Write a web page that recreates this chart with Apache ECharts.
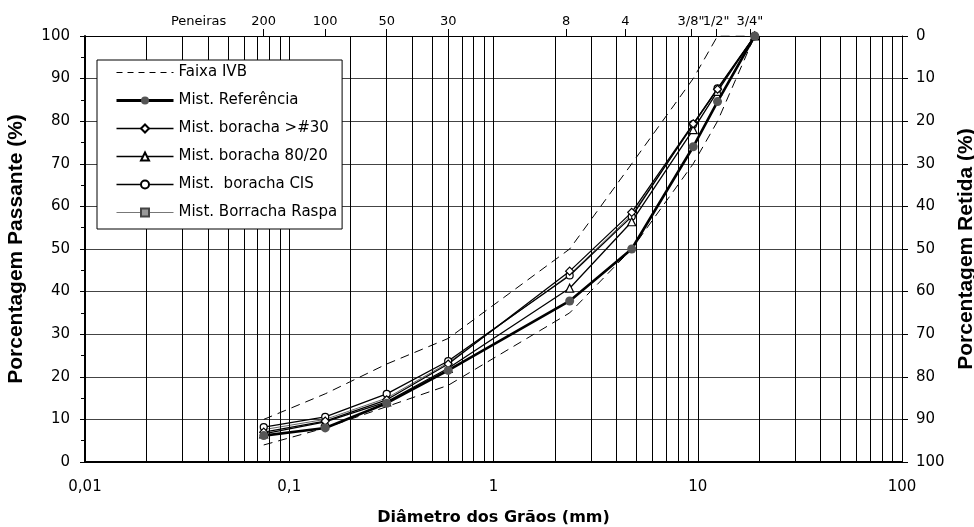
<!DOCTYPE html>
<html>
<head>
<meta charset="utf-8">
<script src="https://cdn.jsdelivr.net/npm/echarts@6/dist/echarts.min.js"></script>
<style>
html,body{margin:0;padding:0;background:#fff;}
#chart{width:974px;height:527px;}
</style>
</head>
<body>
<div id="chart"></div>
<script>
// Sieve openings (mm) and labels
const sieveSizes = [0.075, 0.15, 0.3, 0.6, 2.36, 4.75, 9.5, 12.5, 19];
const sieveLabels = ['200', '100', '50', '30', '8', '4', '3/8"', '1/2"', '3/4"'];
// where the top-axis sieve ticks sit on the drawn scale (mm)
const sieveTickPos = [0.075, 0.15, 0.3, 0.6, 2.27, 4.42, 9.27, 12.3, 18];
const topTitleLabel = 'Peneiras';
const topTitlePos = 0.036;

// Faixa IVB envelope (% passing)
const faixaUpper = [10, 16, 23, 29, 50, 70, 90, 100, 100];
const faixaLower = [4, 8, 13, 18, 35, 50, 70, 80, 100];

// Mixtures (% passing)
const mistReferencia = [6.2, 8, 13.8, 21.5, 37.8, 50, 74, 84.6, 100];
const mistBoracha30 = [7, 9.6, 14.6, 23, 44.8, 58.6, 79.4, 87.5, 100];
const mistBoracha8020 = [6.6, 9.4, 14.1, 22, 40.8, 56.4, 78, 87, 100];
const mistBorachaCIS = [8.2, 10.6, 16, 23.7, 43.8, 57.6, 79.3, 87.7, 100];
const mistRaspa = [7.6, 10, 15, 23.3, 44, 58, 79, 87.5, 100];

const seriesNames = ['Faixa IVB', 'Mist. Referência', 'Mist. boracha >#30', 'Mist. boracha 80/20', 'Mist.  boracha CIS', 'Mist. Borracha Raspa'];

// x-axis tick labels
const xTickValues = [0.01, 0.1, 1, 10, 100];
const xTickLabels = ['0,01', '0,1', '1', '10', '100'];

// vertical grid lines (log minor lines)
const gridDecades = [0.01, 0.1, 1, 10];
const gridMultipliers = [1, 2, 3, 4, 5, 6, 7, 8, 9];

const pairs = vals => sieveSizes.map((s, i) => [s, vals[i]]);
const gridLinesX = [];
gridDecades.forEach(d => gridMultipliers.forEach(m => {
  const v = +(d * m).toPrecision(6);
  if (v > 0.01) gridLinesX.push(v);
}));

const FONT = 'DejaVu Sans';
const chart = echarts.init(document.getElementById('chart'), null, {renderer: 'canvas'});

const topTickVals = sieveTickPos.map(s => Math.log10(s));
const topLabelVals = topTickVals.concat([Math.log10(topTitlePos)]);
const topLabelTexts = sieveLabels.concat([topTitleLabel]);

function lineSeries(name, vals, opts) {
  return Object.assign({
    name: name,
    type: 'line',
    xAxisIndex: 0,
    yAxisIndex: 0,
    data: pairs(vals),
    silent: true
  }, opts);
}

chart.setOption({
  animation: false,
  textStyle: {fontFamily: FONT, color: '#000'},
  grid: {left: 85, right: 72, top: 36, bottom: 65, containLabel: false, outerBoundsMode: 'none'},
  legend: {
    z: 20,
    data: [
      {name: seriesNames[0], itemStyle: {opacity: 0}, lineStyle: {width: 1, color: '#000', type: [6, 5]}},
      {name: seriesNames[1], lineStyle: {width: 3, color: '#000'}},
      {name: seriesNames[2], lineStyle: {width: 1.3, color: '#000'}},
      {name: seriesNames[3], lineStyle: {width: 1.3, color: '#000'}},
      {name: seriesNames[4], lineStyle: {width: 1.3, color: '#000'}},
      {name: seriesNames[5], lineStyle: {width: 1, color: '#777'}}
    ],
    orient: 'vertical',
    left: 97,
    top: 60,
    backgroundColor: '#fff',
    borderColor: '#000',
    borderWidth: 1,
    borderRadius: 0,
    padding: [5, 5, 9, 18],
    itemWidth: 57,
    itemHeight: 10,
    itemGap: 13,
    textStyle: {fontFamily: FONT, fontSize: 15, color: '#000'},
    selectedMode: false
  },
  xAxis: [
    {
      type: 'log', logBase: 10, min: 0.01, max: 100,
      position: 'bottom',
      name: 'Diâmetro dos Grãos (mm)',
      nameLocation: 'middle',
      nameGap: 48,
      nameTextStyle: {fontFamily: FONT, fontSize: 16, fontWeight: 'bold', color: '#000'},
      axisLine: {show: true, onZero: false, lineStyle: {color: '#000', width: 2}},
      axisTick: {show: false},
      splitLine: {show: false},
      axisLabel: {
        fontFamily: FONT, fontSize: 15, color: '#000', margin: 18,
        formatter: v => {
          let best = 0;
          xTickValues.forEach((t, i) => { if (Math.abs(Math.log10(t) - Math.log10(v)) < Math.abs(Math.log10(xTickValues[best]) - Math.log10(v))) best = i; });
          return xTickLabels[best];
        }
      }
    },
    {
      type: 'value', min: -2, max: 2,
      position: 'top',
      axisLine: {show: true, onZero: false, lineStyle: {color: '#000', width: 1}},
      axisTick: {show: true, inside: false, length: 7, customValues: topTickVals, lineStyle: {color: '#000', width: 1}},
      splitLine: {show: false},
      axisLabel: {
        show: true, fontFamily: FONT, fontSize: 13, color: '#000', margin: 8,
        customValues: topLabelVals,
        formatter: v => {
          let best = 0;
          topLabelVals.forEach((t, i) => { if (Math.abs(t - v) < Math.abs(topLabelVals[best] - v)) best = i; });
          return topLabelTexts[best];
        }
      }
    }
  ],
  yAxis: [
    {
      type: 'value', min: 0, max: 100, interval: 10,
      position: 'left',
      name: 'Porcentagem Passante (%)',
      nameLocation: 'middle',
      nameGap: 58,
      nameRotate: 90,
      nameTextStyle: {fontFamily: 'Liberation Sans', fontSize: 21, fontWeight: 'bold', color: '#000'},
      axisLine: {show: true, onZero: false, lineStyle: {color: '#000', width: 2}},
      axisTick: {show: true, inside: false, length: 5, lineStyle: {color: '#000'}},
      splitLine: {show: true, lineStyle: {color: '#444', width: 1}},
      axisLabel: {fontFamily: FONT, fontSize: 15, color: '#000', margin: 15}
    },
    {
      type: 'value', min: 0, max: 100, interval: 10, inverse: true,
      position: 'right',
      name: 'Porcentagem Retida (%)',
      nameLocation: 'middle',
      nameGap: 42,
      nameRotate: 90,
      nameTextStyle: {fontFamily: 'Liberation Sans', fontSize: 21, fontWeight: 'bold', color: '#000'},
      axisLine: {show: true, onZero: false, lineStyle: {color: '#000', width: 1}},
      axisTick: {show: true, inside: false, length: 6, lineStyle: {color: '#000'}},
      splitLine: {show: false},
      axisLabel: {fontFamily: FONT, fontSize: 15, color: '#000', margin: 14}
    },
    {
      // minor ticks every 5 on the left axis
      type: 'value', min: 0, max: 100, interval: 5,
      position: 'left',
      axisLine: {show: false, onZero: false},
      axisTick: {show: true, inside: false, length: 4, lineStyle: {color: '#000'}},
      splitLine: {show: false},
      axisLabel: {show: false}
    }
  ],
  series: [
    {
      name: 'grid',
      type: 'line',
      xAxisIndex: 0, yAxisIndex: 0,
      data: [],
      silent: true,
      z: 1,
      markLine: {
        silent: true,
        symbol: 'none',
        label: {show: false},
        lineStyle: {color: '#000', width: 1, type: 'solid'},
        data: gridLinesX.map(v => ({xAxis: v}))
      }
    },
    lineSeries('Faixa IVB', faixaUpper, {
      symbol: 'none', z: 3,
      lineStyle: {color: '#000', width: 1, type: [9, 6]},
      itemStyle: {color: '#000'}
    }),
    lineSeries('Faixa IVB', faixaLower, {
      symbol: 'none', z: 3,
      lineStyle: {color: '#000', width: 1, type: [9, 6]},
      itemStyle: {color: '#000'}
    }),
    lineSeries('Mist. Borracha Raspa', mistRaspa, {
      symbol: 'rect', symbolSize: 5, z: 4,
      lineStyle: {color: '#666', width: 1},
      itemStyle: {color: '#999', borderColor: '#444', borderWidth: 1}
    }),
    lineSeries('Mist.  boracha CIS', mistBorachaCIS, {
      symbol: 'circle', symbolSize: 7, z: 5,
      lineStyle: {color: '#000', width: 1.3},
      itemStyle: {color: '#fff', borderColor: '#000', borderWidth: 1.2}
    }),
    lineSeries('Mist. boracha 80/20', mistBoracha8020, {
      symbol: 'triangle', symbolSize: 8, z: 5,
      lineStyle: {color: '#000', width: 1.3},
      itemStyle: {color: '#fff', borderColor: '#000', borderWidth: 1.2}
    }),
    lineSeries('Mist. boracha >#30', mistBoracha30, {
      symbol: 'diamond', symbolSize: 8, z: 5,
      lineStyle: {color: '#000', width: 1.3},
      itemStyle: {color: '#fff', borderColor: '#000', borderWidth: 1.2}
    }),
    lineSeries('Mist. Referência', mistReferencia, {
      symbol: 'circle', symbolSize: 9, z: 6,
      lineStyle: {color: '#000', width: 2.6},
      itemStyle: {color: '#555', borderColor: '#555', borderWidth: 0}
    })
  ]
});
</script>
</body>
</html>
